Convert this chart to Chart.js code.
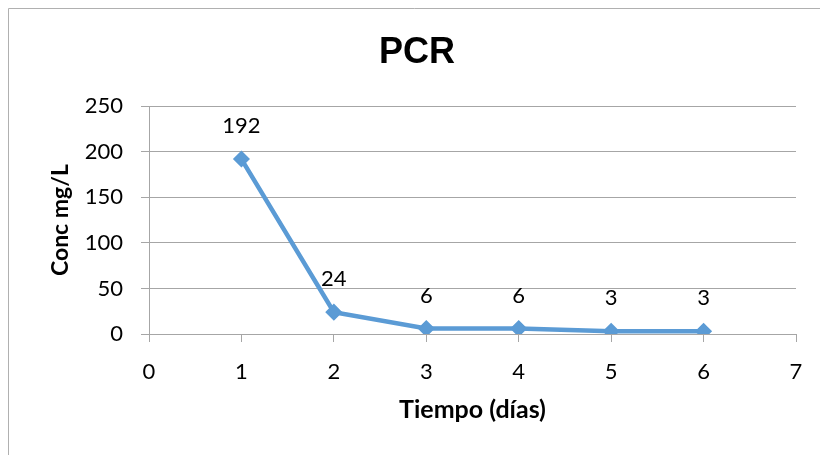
<!DOCTYPE html>
<html lang="es">
<head>
  <meta charset="UTF-8" />
  <title>PCR</title>
  <script src="https://cdn.jsdelivr.net/npm/chart.js"></script>
  <style>
    html, body {
      margin: 0;
      padding: 0;
      background: #ffffff;
      overflow: hidden;
    }
    .chart-box {
      width: 820px;
      height: 455px;
    }
  </style>
</head>
<body>
  <div class="chart-box">
    <canvas id="pcrChart" width="820" height="455"></canvas>
  </div>

  <script>
    // datos
    const dias = [1, 2, 3, 4, 5, 6];
    const pcrValores = [192, 24, 6, 6, 3, 3];
    const xTicks = [0, 1, 2, 3, 4, 5, 6, 7];
    const yTicks = [0, 50, 100, 150, 200, 250];

    const gridColor = '#a6a6a6';
    const lineColor = '#5b9bd5';
    const textFont = 'Lato, "Open Sans", sans-serif';

    // marco gris: solo lado izquierdo y superior, el resto queda fuera de la imagen
    const framePlugin = {
      id: 'frame',
      beforeDraw(chart) {
        const ctx = chart.ctx;
        ctx.save();
        ctx.strokeStyle = '#b0b0b0';
        ctx.lineWidth = 1;
        ctx.beginPath();
        ctx.moveTo(8.5, chart.height);
        ctx.lineTo(8.5, 8.5);
        ctx.lineTo(chart.width, 8.5);
        ctx.stroke();
        ctx.restore();
      }
    };

    // etiquetas de valor encima de cada punto
    const valueLabels = {
      id: 'valueLabels',
      afterDatasetsDraw(chart) {
        const ctx = chart.ctx;
        const meta = chart.getDatasetMeta(0);
        ctx.save();
        ctx.font = '22px ' + textFont;
        ctx.fillStyle = '#000';
        ctx.textAlign = 'center';
        ctx.textBaseline = 'middle';
        meta.data.forEach((pt, i) => {
          ctx.fillText(String(pcrValores[i]), pt.x, pt.y - 33);
        });
        ctx.restore();
      }
    };

    new Chart(document.getElementById('pcrChart').getContext('2d'), {
      type: 'line',
      data: {
        datasets: [{
          label: 'PCR',
          data: dias.map((d, i) => ({ x: d, y: pcrValores[i] })),
          borderColor: lineColor,
          backgroundColor: lineColor,
          borderWidth: 4.5,
          pointStyle: 'rectRot',
          pointRadius: 7.5,
          pointHoverRadius: 7.5,
          pointBorderWidth: 1.5,
          tension: 0
        }]
      },
      options: {
        responsive: false,
        animation: false,
        layout: {
          padding: { top: 10, left: 38, right: 24, bottom: 28 }
        },
        plugins: {
          legend: { display: false },
          tooltip: { enabled: false },
          title: {
            display: true,
            text: 'PCR',
            color: '#000',
            font: { family: '"Liberation Sans", Arial, sans-serif', size: 36, weight: 'bold', lineHeight: 1.2 },
            padding: { top: 21, bottom: 32 }
          }
        },
        scales: {
          x: {
            type: 'linear',
            min: 0,
            max: 7,
            afterBuildTicks(scale) {
              scale.ticks = xTicks.map(v => ({ value: v }));
            },
            afterFit(scale) {
              scale.height = 93;
            },
            border: { display: true, color: gridColor, width: 1 },
            grid: {
              drawOnChartArea: false,
              drawTicks: true,
              tickLength: 8,
              color: gridColor
            },
            ticks: {
              color: '#000',
              padding: 17,
              font: { family: textFont, size: 22 }
            },
            title: {
              display: true,
              text: 'Tiempo (días)',
              color: '#000',
              font: { family: textFont, size: 25, weight: 'bold', lineHeight: 1.2 },
              padding: { top: 0, bottom: 2 }
            }
          },
          y: {
            min: 0,
            max: 250,
            afterBuildTicks(scale) {
              scale.ticks = yTicks.map(v => ({ value: v }));
            },
            afterFit(scale) {
              scale.width = 111;
            },
            border: { display: true, color: gridColor, width: 1 },
            grid: {
              drawOnChartArea: true,
              drawTicks: true,
              tickLength: 8,
              color: gridColor
            },
            ticks: {
              color: '#000',
              padding: 18,
              font: { family: textFont, size: 22 }
            },
            title: {
              display: true,
              text: 'Conc mg/L',
              color: '#000',
              font: { family: textFont, size: 23, weight: 'bold', lineHeight: 1.2 },
              padding: { top: 9, bottom: 0 }
            }
          }
        }
      },
      plugins: [framePlugin, valueLabels]
    });
  </script>
</body>
</html>
